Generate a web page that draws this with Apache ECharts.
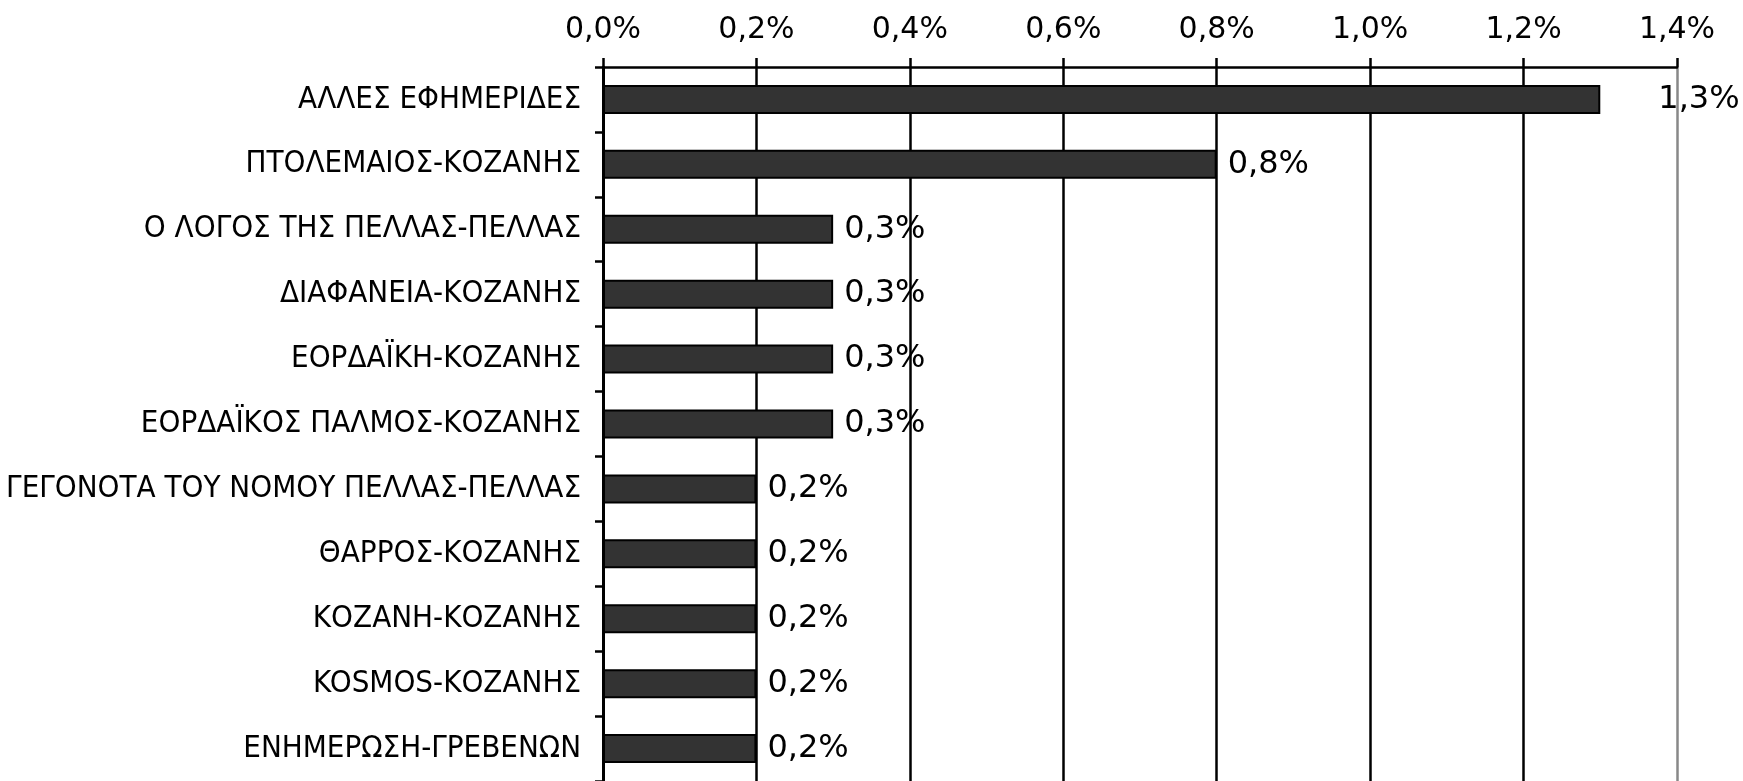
<!DOCTYPE html>
<html>
<head>
<meta charset="utf-8">
<script src="https://cdn.jsdelivr.net/npm/echarts@6/dist/echarts.min.js"></script>
<style>
  html, body { margin: 0; padding: 0; background: #fff; }
  #main { width: 1743px; height: 781px; }
</style>
</head>
<body>
<div id="main"></div>
<script>
// κατηγορίες (από πάνω προς τα κάτω)
const categories = [
  'ΑΛΛΕΣ ΕΦΗΜΕΡΙΔΕΣ',
  'ΠΤΟΛΕΜΑΙΟΣ-ΚΟΖΑΝΗΣ',
  'Ο ΛΟΓΟΣ ΤΗΣ ΠΕΛΛΑΣ-ΠΕΛΛΑΣ',
  'ΔΙΑΦΑΝΕΙΑ-ΚΟΖΑΝΗΣ',
  'ΕΟΡΔΑΪΚΗ-ΚΟΖΑΝΗΣ',
  'ΕΟΡΔΑΪΚΟΣ ΠΑΛΜΟΣ-ΚΟΖΑΝΗΣ',
  'ΓΕΓΟΝΟΤΑ ΤΟΥ ΝΟΜΟΥ ΠΕΛΛΑΣ-ΠΕΛΛΑΣ',
  'ΘΑΡΡΟΣ-ΚΟΖΑΝΗΣ',
  'ΚΟΖΑΝΗ-ΚΟΖΑΝΗΣ',
  'KOSMOS-ΚΟΖΑΝΗΣ',
  'ΕΝΗΜΕΡΩΣΗ-ΓΡΕΒΕΝΩΝ'
];
// ποσοστά (%)
const values = [1.3, 0.8, 0.3, 0.3, 0.3, 0.3, 0.2, 0.2, 0.2, 0.2, 0.2];
// άξονας τιμών
const axisMin = 0;
const axisMax = 1.4;
const axisStep = 0.2;

const pct = v => v.toFixed(1).replace('.', ',') + '%';

const chart = echarts.init(document.getElementById('main'), null, { renderer: 'canvas' });

const option = {
  backgroundColor: '#ffffff',
  animation: false,
  grid: {
    left: 603,
    top: 67,
    right: 66,
    bottom: -5
  },
  xAxis: {
    type: 'value',
    position: 'top',
    min: axisMin,
    max: axisMax,
    interval: axisStep,
    axisLine: { show: true, lineStyle: { color: '#000', width: 2.5 } },
    axisTick: { show: true, length: 9, lineStyle: { color: '#000', width: 2.5 } },
    axisLabel: {
      margin: 22,
      color: '#000',
      fontFamily: 'DejaVu Sans',
      fontSize: 30,
      formatter: v => pct(v)
    },
    splitLine: {
      show: true,
      lineStyle: {
        color: ['#000', '#000', '#000', '#000', '#000', '#000', '#000', '#888'],
        width: 2.5
      }
    }
  },
  yAxis: {
    type: 'category',
    inverse: true,
    data: categories,
    axisLine: { show: true, lineStyle: { color: '#000', width: 3 } },
    axisTick: { show: true, length: 8, lineStyle: { color: '#000', width: 2.5 } },
    axisLabel: {
      margin: 22,
      color: '#000',
      fontFamily: 'DejaVu Sans Condensed',
      fontSize: 31
    }
  },
  series: [{
    type: 'bar',
    barWidth: 29,
    itemStyle: {
      color: '#333333',
      borderColor: '#000',
      borderWidth: 2
    },
    label: {
      show: true,
      position: 'right',
      distance: 11,
      color: '#000',
      fontFamily: 'DejaVu Sans',
      fontSize: 32,
      formatter: p => pct(p.value)
    },
    // η πρώτη ετικέτα είναι πιο δεξιά στο πρωτότυπο
    data: values.map((v, i) => i === 0 ? { value: v, label: { distance: 58 } } : v)
  }]
};

chart.setOption(option);
</script>
</body>
</html>
